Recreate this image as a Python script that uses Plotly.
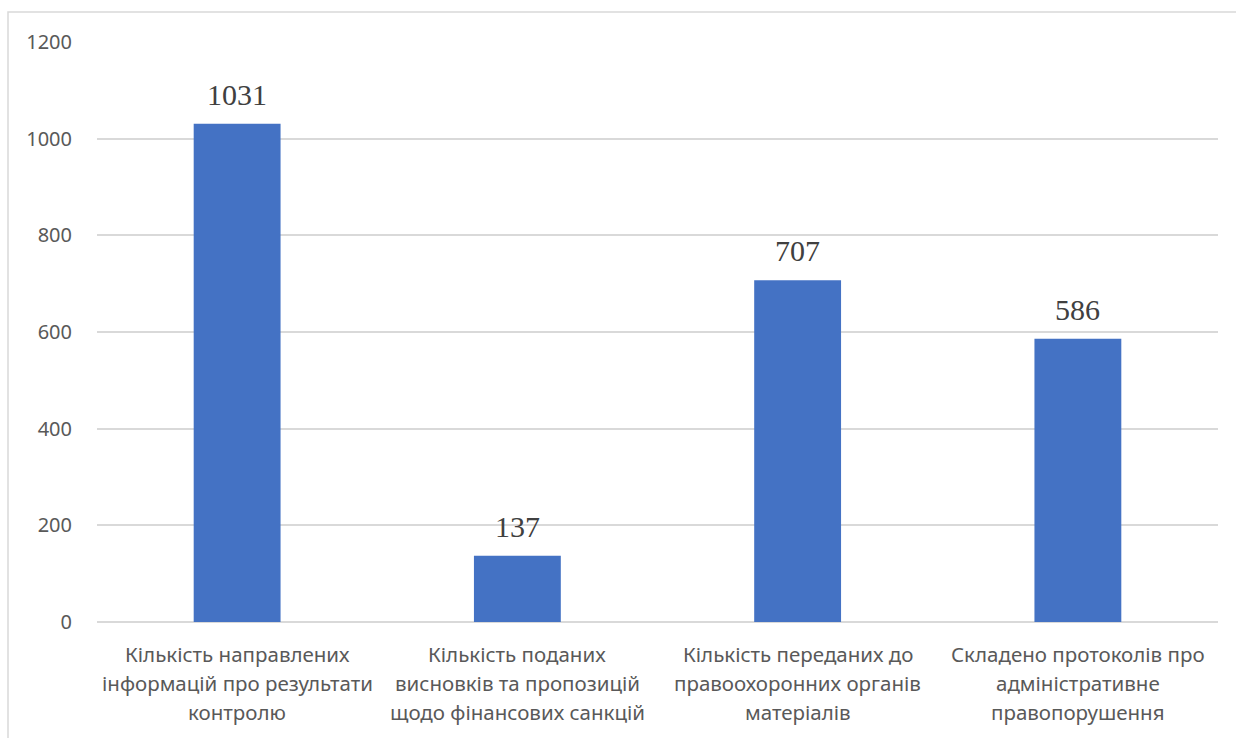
import plotly.graph_objects as go

categories = [
    "Кількість направлених<br>інформацій про результати<br>контролю",
    "Кількість поданих<br>висновків та пропозицій<br>щодо фінансових санкцій",
    "Кількість переданих до<br>правоохоронних органів<br>матеріалів",
    "Складено протоколів про<br>адміністративне<br>правопорушення",
]
values = [1031, 137, 707, 586]
y_ticks = [0, 200, 400, 600, 800, 1000, 1200]

keys = [f"c{i}" for i in range(len(categories))]

fig = go.Figure()
fig.add_trace(go.Bar(
    x=keys, y=values, marker=dict(color="#4472C4", line=dict(width=0)),
    hoverinfo="skip",
))

annotations = []
for k, v in zip(keys, values):
    annotations.append(dict(
        x=k, y=v, xref="x", yref="y", text=str(v), showarrow=False,
        yanchor="bottom", yshift=11,
        font=dict(family="Liberation Serif", size=30, color="#404040"),
    ))
for k, lab in zip(keys, categories):
    for i, line in enumerate(lab.split("<br>")):
        annotations.append(dict(
            x=k, y=0, xref="x", yref="y", text=line, showarrow=False,
            yanchor="middle", yshift=-(32 + 29 * i),
            font=dict(family="Noto Sans", size=20.5, color="#595959"),
        ))

fig.update_layout(
    width=1236, height=738,
    margin=dict(l=97, r=18, t=42, b=116),
    paper_bgcolor="white", plot_bgcolor="white",
    bargap=0.69, showlegend=False,
    annotations=annotations,
    shapes=[dict(type="rect", xref="paper", yref="paper",
                 x0=(8 - 97) / 1121, x1=1.2, y0=-0.5, y1=1 + (42 - 12) / 580,
                 line=dict(color="#D9D9D9", width=1.5), layer="below")],
    xaxis=dict(showticklabels=False, showgrid=False, zeroline=False,
               showline=False, ticks=""),
    yaxis=dict(range=[0, 1200], tickvals=y_ticks, showgrid=True,
               gridcolor="#D9D9D9", gridwidth=1.5, zeroline=True,
               zerolinecolor="#D9D9D9", zerolinewidth=1.5, showline=False,
               ticks="", ticklabelstandoff=24,
               tickfont=dict(family="Noto Sans", size=20, color="#595959")),
)

fig.write_html("out.html")
